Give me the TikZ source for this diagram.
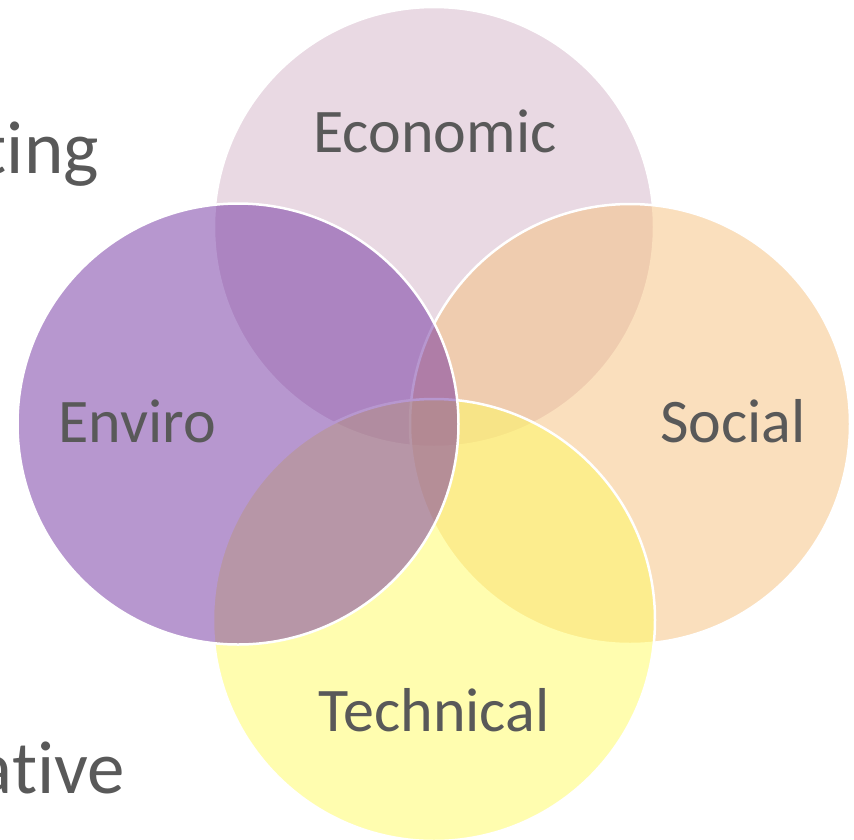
\documentclass[tikz,border=0pt]{standalone}
\usepackage{fontspec}
\setmainfont{Carlito}[Ligatures={NoCommon,NoRare,NoContextual}]
\definecolor{txt}{RGB}{89,89,89}
\definecolor{econ}{RGB}{213,181,201}
\definecolor{envi}{RGB}{112,48,160}
\definecolor{soci}{RGB}{246,192,124}
\definecolor{tech}{RGB}{255,252,96}
\tikzset{
  venn/.style={draw=white,line width=2.5pt,fill opacity=0.5},
  lbl/.style={text=txt,font=\fontsize{62}{62}\selectfont,inner sep=0pt},
  side/.style={text=txt,font=\fontsize{75}{75}\selectfont,inner sep=0pt}
}
\begin{document}
\begin{tikzpicture}[x=1pt,y=-1pt]
\useasboundingbox (0,0) rectangle (854,839);
\fill[white] (0,0) rectangle (854,839);
\node[side,anchor=base east] (ting) at (99,173) {t\kern0pt ing};
\node[side,anchor=base east] (ative) at (125,793) {at\kern0pt ive};
\path[venn,fill=econ] (434,227) circle[radius=220];
\path[venn,fill=soci] (630,424) circle[radius=220];
\path[venn,fill=tech] (434,620) circle[radius=221];
\path[venn,fill=envi] (238,424) circle[radius=220.5];
\node[lbl,anchor=base] (econ) at (435,152) {Economic};
\node[lbl,anchor=base] (envi) at (137,442) {Enviro};
\node[lbl,anchor=base] (soci) at (733,442) {Social};
\node[lbl,anchor=base] (tech) at (434,731) {Technical};
\end{tikzpicture}
\end{document}
